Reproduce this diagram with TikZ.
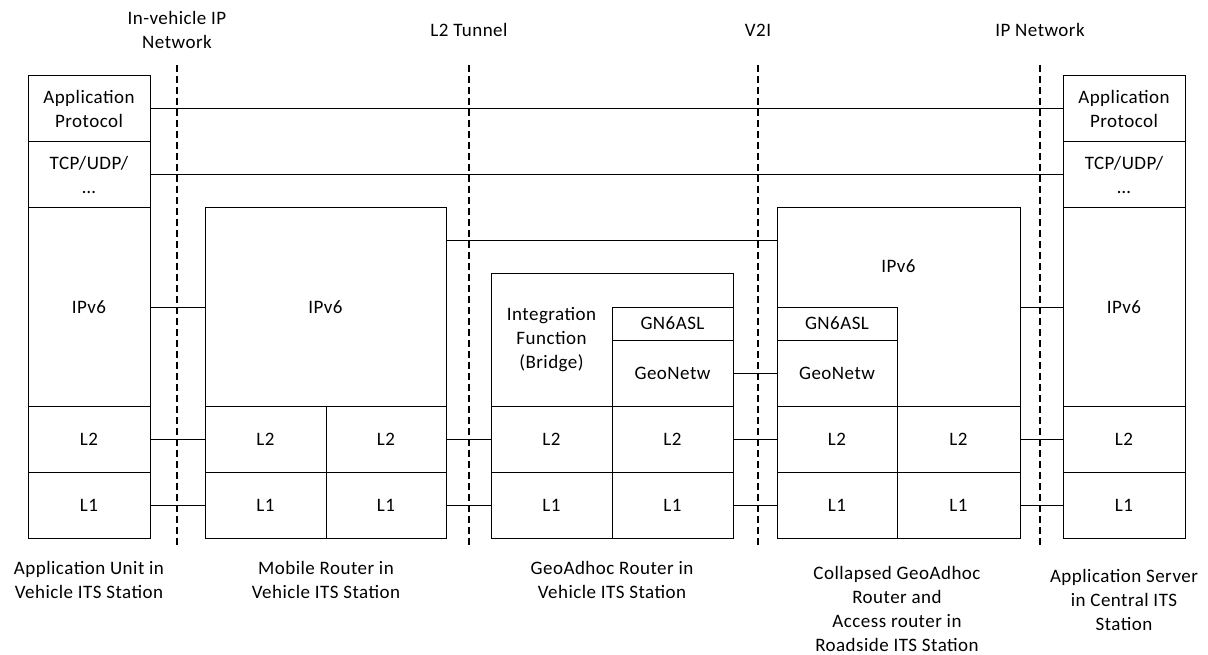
\documentclass[tikz,border=0pt]{standalone}
\usepackage{fontspec}
\setmainfont{Carlito}[LetterSpace=2.5]
\usetikzlibrary{calc}
\begin{document}
\begin{tikzpicture}[x=1pt,y=-1pt,
  box/.style={draw=black,line width=1pt,inner sep=0pt,align=center,font=\fontsize{19}{24}\selectfont},
  txt/.style={inner sep=0pt,align=center,font=\fontsize{19}{24}\selectfont},
  link/.style={draw=black,line width=1pt},
  sep/.style={draw=black,line width=2.8pt,dash pattern=on 7pt off 4pt}]
\useasboundingbox (0,0) rectangle (1208,655);
% left column
\node[box,minimum width=122pt,minimum height=66pt] (lApp) at (89,109) {Application\\Protocol};
\node[box,minimum width=122pt,minimum height=66pt] (lTcp) at (89,175) {TCP/UDP/\\…};
\node[box,minimum width=122pt,minimum height=198pt] (lIp) at (89,307) {IPv6};
\node[box,minimum width=122pt,minimum height=66pt] (lL2) at (89,439) {L2};
\node[box,minimum width=122pt,minimum height=66pt] (lL1) at (89,505) {L1};
% mobile router
\node[box,minimum width=241pt,minimum height=198pt] (mIp) at (325.5,307) {IPv6};
\node[box,minimum width=121pt,minimum height=66pt] (mL2a) at (265.5,439) {L2};
\node[box,minimum width=120pt,minimum height=66pt] (mL2b) at (386,439) {L2};
\node[box,minimum width=121pt,minimum height=66pt] (mL1a) at (265.5,505) {L1};
\node[box,minimum width=120pt,minimum height=66pt] (mL1b) at (386,505) {L1};
% geoadhoc router
\node[box,minimum width=242pt,minimum height=132pt] (gOut) at (612,340) {};
\node[txt] (gInt) at (551.5,340) {Integration\\Function\\(Bridge)};
\node[box,minimum width=121pt,minimum height=33pt] (gGn) at (672.5,323.5) {GN6ASL};
\node[box,minimum width=121pt,minimum height=66pt] (gGeo) at (672.5,373) {GeoNetw};
\node[box,minimum width=121pt,minimum height=66pt] (gL2a) at (551.5,439) {L2};
\node[box,minimum width=121pt,minimum height=66pt] (gL2b) at (672.5,439) {L2};
\node[box,minimum width=121pt,minimum height=66pt] (gL1a) at (551.5,505) {L1};
\node[box,minimum width=121pt,minimum height=66pt] (gL1b) at (672.5,505) {L1};
% collapsed router
\node[box,minimum width=243pt,minimum height=198pt] (cIp) at (898.5,307) {};
\node[txt] (cIpT) at (898.5,266) {IPv6};
\node[box,minimum width=120pt,minimum height=33pt] (cGn) at (837,323.5) {GN6ASL};
\node[box,minimum width=120pt,minimum height=66pt] (cGeo) at (837,373) {GeoNetw};
\node[box,minimum width=120pt,minimum height=66pt] (cL2a) at (837,439) {L2};
\node[box,minimum width=123pt,minimum height=66pt] (cL2b) at (958.5,439) {L2};
\node[box,minimum width=120pt,minimum height=66pt] (cL1a) at (837,505) {L1};
\node[box,minimum width=123pt,minimum height=66pt] (cL1b) at (958.5,505) {L1};
% right column
\node[box,minimum width=122pt,minimum height=66pt] (rApp) at (1124,109) {Application\\Protocol};
\node[box,minimum width=122pt,minimum height=66pt] (rTcp) at (1124,175) {TCP/UDP/\\…};
\node[box,minimum width=122pt,minimum height=198pt] (rIp) at (1124,307) {IPv6};
\node[box,minimum width=122pt,minimum height=66pt] (rL2) at (1124,439) {L2};
\node[box,minimum width=122pt,minimum height=66pt] (rL1) at (1124,505) {L1};
% separators
\coordinate (d1t) at (177,65); \coordinate (d1b) at (177,548);
\coordinate (d2t) at (469,65); \coordinate (d2b) at (469,548);
\coordinate (d3t) at (758,65); \coordinate (d3b) at (758,548);
\coordinate (d4t) at (1040,65); \coordinate (d4b) at (1040,548);
\draw[sep] (d1t) -- (d1b);
\draw[sep] (d2t) -- (d2b);
\draw[sep] (d3t) -- (d3b);
\draw[sep] (d4t) -- (d4b);
% links
\draw[link] (lApp.east) -- (rApp.west);
\draw[link] (lTcp.east) -- (rTcp.west);
\draw[link] ([yshift=-33pt]mIp.north east) -- ([yshift=-33pt]cIp.north west);
\draw[link] (lIp.east) -- (mIp.west);
\draw[link] (cIp.east) -- (rIp.west);
\draw[link] (gGeo.east) -- (cGeo.west);
\draw[link] (lL2.east) -- (mL2a.west);
\draw[link] (mL2b.east) -- (gL2a.west);
\draw[link] (gL2b.east) -- (cL2a.west);
\draw[link] (cL2b.east) -- (rL2.west);
\draw[link] (lL1.east) -- (mL1a.west);
\draw[link] (mL1b.east) -- (gL1a.west);
\draw[link] (gL1b.east) -- (cL1a.west);
\draw[link] (cL1b.east) -- (rL1.west);
% top labels
\node[txt] (t1) at (177,30) {In-vehicle IP\\Network};
\node[txt] (t2) at (469,30) {L2 Tunnel};
\node[txt] (t3) at (758,30) {V2I};
\node[txt] (t4) at (1040,30) {IP Network};
% bottom labels
\node[txt] (b1) at (89,579.5) {Application Unit in\\Vehicle ITS Station};
\node[txt] (b2) at (326,580) {Mobile Router in\\Vehicle ITS Station};
\node[txt] (b3) at (612,580) {GeoAdhoc Router in\\Vehicle ITS Station};
\node[txt] (b4) at (897,608.5) {Collapsed GeoAdhoc\\Router and\\Access router in\\Roadside ITS Station};
\node[txt] (b5) at (1124,600) {Application Server\\in Central ITS\\Station};
\end{tikzpicture}
\end{document}
